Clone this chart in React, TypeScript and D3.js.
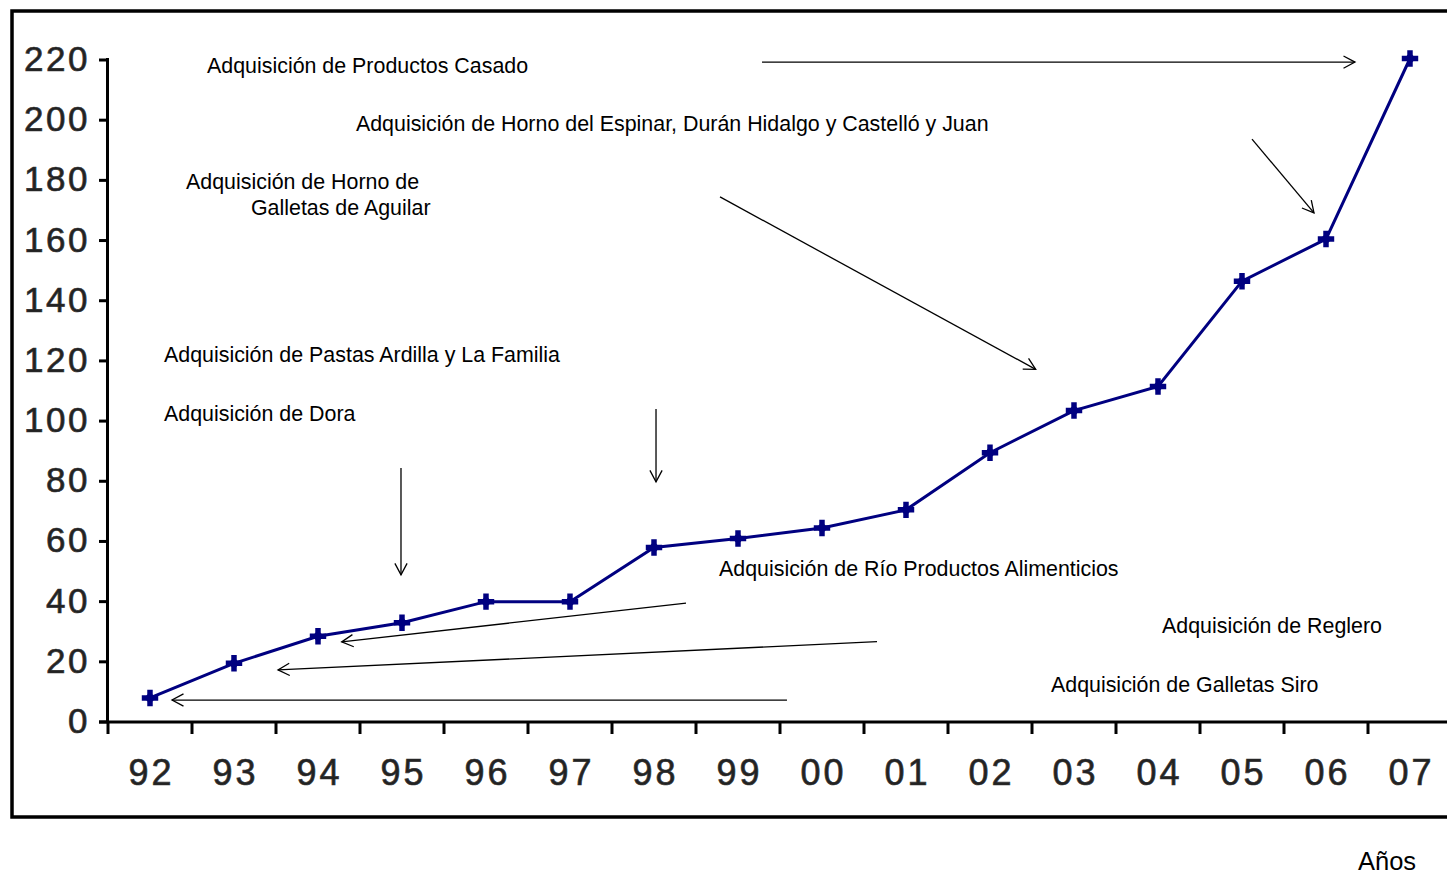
import React from "react";
import * as d3 from "d3";

const years = ["92","93","94","95","96","97","98","99","00","01","02","03","04","05","06","07"];
const values = [8, 19.5, 28.5, 33, 40, 40, 58, 61, 64.5, 70.5, 89.5, 103.5, 111.5, 146.5, 160.5, 220.5];
const yTicks = [0, 20, 40, 60, 80, 100, 120, 140, 160, 180, 200, 220];

// annotation texts, positioned in data space (category index, value)
const noteTexts = [
  "Adquisición de Productos Casado",
  "Adquisición de Horno del Espinar, Durán Hidalgo y Castelló y Juan",
  "Adquisición de Horno de",
  "Galletas de Aguilar",
  "Adquisición de Pastas Ardilla y La Familia",
  "Adquisición de Dora",
  "Adquisición de Río Productos Alimenticios",
  "Adquisición de Reglero",
  "Adquisición de Galletas Siro",
];
const noteIdx = [0.679, 2.452, 0.429, 1.202, 0.167, 0.167, 6.774, 12.048, 10.726];
const noteVal = [215.7, 196.4, 177.1, 168.5, 119.6, 100.0, 48.5, 29.6, 10.0];

// arrows in data space: start (index, value) -> end (index, value)
const arrowFromIdx = [7.286, 13.119, 6.786, 6.024, 2.988, 6.381, 8.655, 7.583];
const arrowFromVal = [219.3, 193.7, 174.5, 104.0, 84.4, 39.5, 26.7, 7.3];
const arrowToIdx = [14.345, 13.857, 10.544, 6.024, 2.988, 2.282, 1.524, 0.262];
const arrowToVal = [219.3, 169.2, 117.2, 79.8, 48.9, 26.6, 17.3, 7.3];

const xAxisTitle = "Años";

export default function App() {
  const W = 1447;
  const H = 875;
  const n = years.length;
  const step = 84;
  const x0 = 108;
  const xBand = d3.scaleBand<string>().domain(years).range([x0, x0 + step * n]).padding(0);
  const xIdx = d3.scaleLinear().domain([0, 1]).range([x0 + step / 2, x0 + step / 2 + step]);
  const y = d3.scaleLinear().domain([0, 220]).range([722, 60]);

  const line = d3
    .line<number>()
    .x((_, i) => (xBand(years[i]) as number) + xBand.bandwidth() / 2)
    .y((d) => y(d));

  const cross = d3.symbol().type(d3.symbolCross).size(150)() as string;
  const diamond = d3.symbol().type(d3.symbolSquare).size(70)() as string;

  const font = "'Liberation Sans', Arial, sans-serif";
  const axisColor = "#000";
  const yAxisX = 107.5;
  const axisY = y(0);

  const arrows = arrowFromIdx.map((_, i) => {
    const xs = xIdx(arrowFromIdx[i]);
    const ys = y(arrowFromVal[i]);
    const xe = xIdx(arrowToIdx[i]);
    const ye = y(arrowToVal[i]);
    const ang = Math.atan2(ye - ys, xe - xs);
    const L = 13;
    const a = (28 * Math.PI) / 180;
    const h1 = [xe - L * Math.cos(ang - a), ye - L * Math.sin(ang - a)];
    const h2 = [xe - L * Math.cos(ang + a), ye - L * Math.sin(ang + a)];
    return { xs, ys, xe, ye, h1, h2 };
  });

  return (
    <svg
      width={W}
      height={H}
      style={{ position: "absolute", left: 0, top: 0, background: "#fff" }}
    >
      <rect x={0} y={0} width={W} height={H} fill="#fff" />
      {/* outer frame */}
      <rect x={12} y={11} width={1460} height={806} fill="none" stroke="#000" strokeWidth={3.5} />

      {/* y axis */}
      <line x1={yAxisX} x2={yAxisX} y1={y(220) - 2} y2={axisY} stroke={axisColor} strokeWidth={3} />
      {yTicks.map((t) => (
        <g key={"yt" + t}>
          <line x1={99} x2={yAxisX} y1={y(t)} y2={y(t)} stroke={axisColor} strokeWidth={3} />
          <text
            x={90}
            y={y(t) + 11}
            textAnchor="end"
            fontFamily={font}
            fontSize={35}
            letterSpacing={2.5}
            fill="#222"
            stroke="#333"
            strokeWidth={0.7}
          >
            {t}
          </text>
        </g>
      ))}

      {/* x axis */}
      <line x1={99} x2={W + 10} y1={axisY} y2={axisY} stroke={axisColor} strokeWidth={3} />
      {years.map((yr) => (
        <g key={"xt" + yr}>
          <line
            x1={xBand(yr) as number}
            x2={xBand(yr) as number}
            y1={axisY}
            y2={axisY + 12}
            stroke={axisColor}
            strokeWidth={3}
          />
          <text
            x={(xBand(yr) as number) + xBand.bandwidth() / 2 + 1.5}
            y={785}
            textAnchor="middle"
            fontFamily={font}
            fontSize={36}
            letterSpacing={3}
            fill="#222"
            stroke="#333"
            strokeWidth={0.7}
          >
            {yr}
          </text>
        </g>
      ))}

      {/* arrows */}
      {arrows.map((a, i) => (
        <g key={"ar" + i} stroke="#000" strokeWidth={1.3} fill="none">
          <line x1={a.xs} y1={a.ys} x2={a.xe} y2={a.ye} />
          <polyline points={`${a.h1[0]},${a.h1[1]} ${a.xe},${a.ye} ${a.h2[0]},${a.h2[1]}`} />
        </g>
      ))}

      {/* series */}
      <path d={line(values) as string} fill="none" stroke="#000080" strokeWidth={3} />
      {values.map((v, i) => {
        const cx = (xBand(years[i]) as number) + xBand.bandwidth() / 2;
        const cy = y(v);
        return (
          <g key={"pt" + i} transform={`translate(${cx},${cy})`} fill="#000080">
            <path d={cross} />
            <path d={diamond} transform="rotate(45)" />
          </g>
        );
      })}

      {/* annotation texts */}
      {noteTexts.map((t, i) => (
        <text
          key={"nt" + i}
          x={xIdx(noteIdx[i])}
          y={y(noteVal[i])}
          fontFamily={font}
          fontSize={21.4}
          fill="#000"
        >
          {t}
        </text>
      ))}

      <text x={1358} y={870} fontFamily={font} fontSize={25.5} fill="#000">
        {xAxisTitle}
      </text>
    </svg>
  );
}
